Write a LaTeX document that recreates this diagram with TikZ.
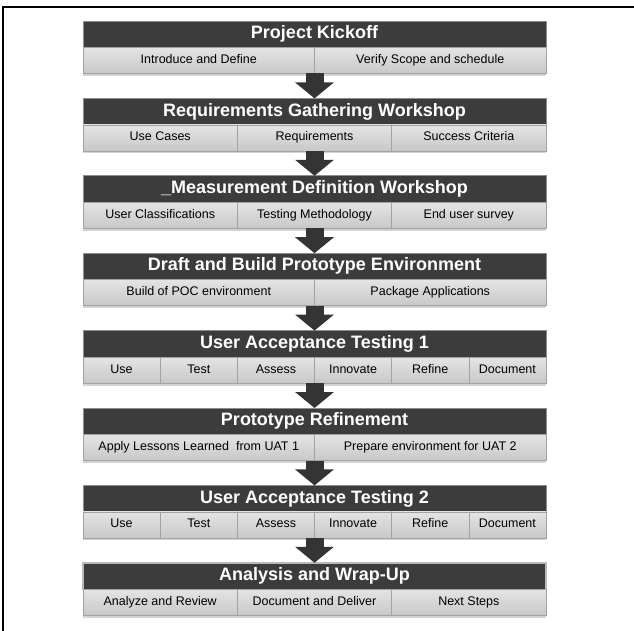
\documentclass[tikz,border=0pt]{standalone}
\usepackage{fontspec}
\setmainfont{Liberation Sans}
\usetikzlibrary{arrows.meta,shadows}

\definecolor{hdrfill}{HTML}{3C3C3C}
\definecolor{hdrrim}{HTML}{8C8C8C}
\definecolor{subtop}{HTML}{E4E4E4}
\definecolor{subbot}{HTML}{C8C8C8}
\definecolor{subrim}{HTML}{A2A2A2}
\definecolor{arrowfill}{HTML}{343434}

\tikzset{
    header/.style={anchor=north west,inner sep=0,outer sep=0,fill=hdrfill,draw=hdrrim,line width=0.8pt,
        text=white,font=\fontsize{18}{18}\selectfont\bfseries,text height=13pt,text depth=4pt,
        minimum width=\barwidth pt,minimum height=\hdrheight pt},
    cell/.style={anchor=north west,inner sep=0,outer sep=0,top color=subtop,bottom color=subbot,
        draw=subrim,line width=0.6pt,font=\fontsize{12.5}{13}\selectfont,text height=9pt,text depth=3pt,
        minimum height=\subheight pt,drop shadow={shadow xshift=0pt,shadow yshift=-2.5pt,opacity=0.35}},
    bigarrow/.style={draw=arrowfill,line width=18pt,-{Triangle[width=38pt,length=16pt]}}
}

\begin{document}
\begin{tikzpicture}[x=1pt,y=-1pt]
    \pgfmathsetmacro{\barleft}{83}
    \pgfmathsetmacro{\barwidth}{463}
    \pgfmathsetmacro{\hdrheight}{26.5}
    \pgfmathsetmacro{\subheight}{26}
    \pgfmathsetmacro{\pitch}{77.4}
    \pgfmathsetmacro{\halfw}{\barwidth/2}
    \pgfmathsetmacro{\thirdw}{\barwidth/3}
    \pgfmathsetmacro{\sixthw}{\barwidth/6}
    \useasboundingbox (0,0) rectangle (634,631);
    \draw[line width=2.5pt] (3,631) -- (3,7) -- (634,7);
    % Project Kickoff
    \node[header] (h1) at (\barleft,21) {Project Kickoff};
    \node[cell,minimum width=\halfw pt] (c11) at (h1.south west) {Introduce and Define};
    \node[cell,minimum width=\halfw pt] (c12) at (c11.north east) {Verify Scope and schedule};
    % Requirements
    \node[header] (h2) at (\barleft,21+\pitch) {Requirements Gathering Workshop};
    \node[cell,minimum width=\thirdw pt] (c21) at (h2.south west) {Use Cases};
    \node[cell,minimum width=\thirdw pt] (c22) at (c21.north east) {Requirements};
    \node[cell,minimum width=\thirdw pt] (c23) at (c22.north east) {Success Criteria};
    % Measurement
    \node[header] (h3) at (\barleft,21+2*\pitch) {\_Measurement Definition Workshop};
    \node[cell,minimum width=\thirdw pt] (c31) at (h3.south west) {User Classifications};
    \node[cell,minimum width=\thirdw pt] (c32) at (c31.north east) {Testing Methodology};
    \node[cell,minimum width=\thirdw pt] (c33) at (c32.north east) {End user survey};
    % Prototype environment
    \node[header] (h4) at (\barleft,21+3*\pitch) {Draft and Build Prototype Environment};
    \node[cell,minimum width=\halfw pt] (c41) at (h4.south west) {Build of POC environment};
    \node[cell,minimum width=\halfw pt] (c42) at (c41.north east) {Package Applications};
    % UAT 1
    \node[header] (h5) at (\barleft,21+4*\pitch) {User Acceptance Testing 1};
    \node[cell,minimum width=\sixthw pt] (c51) at (h5.south west) {Use};
    \node[cell,minimum width=\sixthw pt] (c52) at (c51.north east) {Test};
    \node[cell,minimum width=\sixthw pt] (c53) at (c52.north east) {Assess};
    \node[cell,minimum width=\sixthw pt] (c54) at (c53.north east) {Innovate};
    \node[cell,minimum width=\sixthw pt] (c55) at (c54.north east) {Refine};
    \node[cell,minimum width=\sixthw pt] (c56) at (c55.north east) {Document};
    % Refinement
    \node[header] (h6) at (\barleft,21+5*\pitch) {Prototype Refinement};
    \node[cell,minimum width=\halfw pt] (c61) at (h6.south west) {Apply Lessons Learned\ \ from UAT 1};
    \node[cell,minimum width=\halfw pt] (c62) at (c61.north east) {Prepare environment for UAT 2};
    % UAT 2
    \node[header] (h7) at (\barleft,21+6*\pitch) {User Acceptance Testing 2};
    \node[cell,minimum width=\sixthw pt] (c71) at (h7.south west) {Use};
    \node[cell,minimum width=\sixthw pt] (c72) at (c71.north east) {Test};
    \node[cell,minimum width=\sixthw pt] (c73) at (c72.north east) {Assess};
    \node[cell,minimum width=\sixthw pt] (c74) at (c73.north east) {Innovate};
    \node[cell,minimum width=\sixthw pt] (c75) at (c74.north east) {Refine};
    \node[cell,minimum width=\sixthw pt] (c76) at (c75.north east) {Document};
    % Wrap-up
    \node[header,draw=gray!55,line width=1.6pt] (h8) at (\barleft,21+7*\pitch) {Analysis and Wrap-Up};
    \node[cell,minimum width=\thirdw pt] (c81) at (h8.south west) {Analyze and Review};
    \node[cell,minimum width=\thirdw pt] (c82) at (c81.north east) {Document and Deliver};
    \node[cell,minimum width=\thirdw pt] (c83) at (c82.north east) {Next Steps};
    % arrows
    \draw[bigarrow] (h1.south |- c11.south) -- (h2.north);
    \draw[bigarrow] (h2.south |- c21.south) -- (h3.north);
    \draw[bigarrow] (h3.south |- c31.south) -- (h4.north);
    \draw[bigarrow] (h4.south |- c41.south) -- (h5.north);
    \draw[bigarrow] (h5.south |- c51.south) -- (h6.north);
    \draw[bigarrow] (h6.south |- c61.south) -- (h7.north);
    \draw[bigarrow] (h7.south |- c71.south) -- (h8.north);
\end{tikzpicture}
\end{document}
